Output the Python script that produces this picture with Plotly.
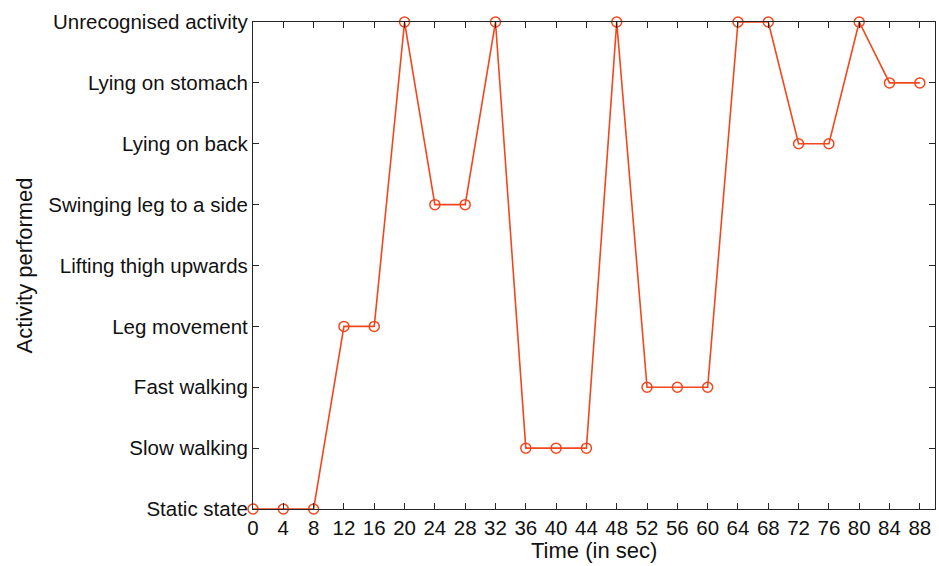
import plotly.graph_objects as go

activities = ["Static state", "Slow walking", "Fast walking", "Leg movement",
              "Lifting thigh upwards", "Swinging leg to a side", "Lying on back",
              "Lying on stomach", "Unrecognised activity"]
time_s = [0, 4, 8, 12, 16, 20, 24, 28, 32, 36, 40, 44, 48, 52, 56, 60, 64, 68, 72, 76, 80, 84, 88]
activity_idx = [0, 0, 0, 3, 3, 8, 5, 5, 8, 1, 1, 1, 8, 2, 2, 2, 8, 8, 6, 6, 8, 7, 7]
x_ticks = list(range(0, 89, 4))

color = "#F2471E"
axcol = "#262626"

W, H = 939, 566
L, R, T, B = 253, 4, 22, 57
pw, ph = W - L - R, H - T - B

fig = go.Figure()
fig.add_trace(go.Scatter(
    x=time_s, y=activity_idx, mode="lines+markers",
    line=dict(color=color, width=1.6),
    marker=dict(symbol="circle-open", size=10, color=color, line=dict(width=1.5, color=color)),
    cliponaxis=False, showlegend=False))

fig.update_layout(
    width=W, height=H,
    margin=dict(l=L, r=R, t=T, b=B, autoexpand=False),
    paper_bgcolor="white", plot_bgcolor="white",
    font=dict(family="Liberation Sans, Arial, sans-serif", size=20.5, color="#111111"),
)
fig.update_xaxes(
    range=[0, 90], tickvals=x_ticks, ticktext=[str(v) for v in x_ticks],
    showgrid=False, zeroline=False, showline=True, linecolor=axcol, linewidth=1.2,
    mirror="ticks", ticks="inside", ticklen=6, tickcolor=axcol, tickwidth=1,
    automargin=False,
)
fig.update_yaxes(
    range=[0, 8], tickvals=list(range(len(activities))), ticktext=activities,
    showgrid=False, zeroline=False, showline=True, linecolor=axcol, linewidth=1.2,
    mirror="ticks", ticks="inside", ticklen=6, tickcolor=axcol, tickwidth=1,
    automargin=False,
)
fig.add_annotation(text="Activity performed", xref="paper", yref="paper",
                   x=(24 - L) / pw, y=0.5, textangle=-90, showarrow=False,
                   xanchor="center", yanchor="middle", font=dict(size=22))
fig.add_annotation(text="Time (in sec)", xref="paper", yref="paper",
                   x=0.5, y=-(550 - (T + ph)) / ph, showarrow=False,
                   xanchor="center", yanchor="middle", font=dict(size=22))
fig.write_html("out.html", config={"displayModeBar": False},
               post_script="document.body.style.margin='0';document.body.style.overflow='hidden';")
